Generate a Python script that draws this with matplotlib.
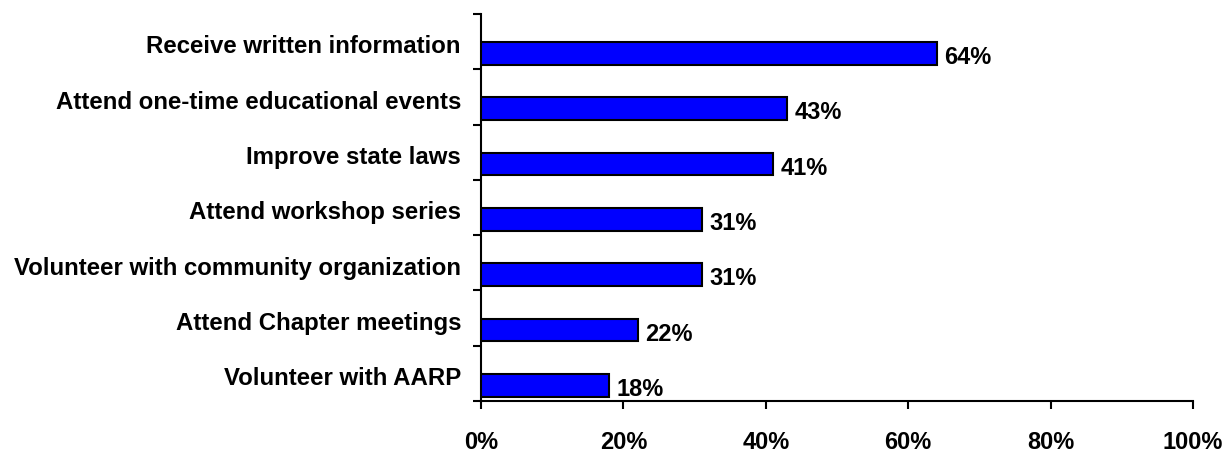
import matplotlib
matplotlib.use("Agg")
import matplotlib.pyplot as plt

categories = [
    "Receive written information",
    "Attend one-time educational events",
    "Improve state laws",
    "Attend workshop series",
    "Volunteer with community organization",
    "Attend Chapter meetings",
    "Volunteer with AARP",
]
values = [64, 43, 41, 31, 31, 22, 18]
xticks = [0, 20, 40, 60, 80, 100]
xtick_labels = ["0%", "20%", "40%", "60%", "80%", "100%"]

plt.rcParams['font.family'] = ['Liberation Sans', 'DejaVu Sans']
plt.rcParams['font.weight'] = 'bold'

fig = plt.figure(figsize=(12.25, 4.54), dpi=100)
ax = fig.add_axes([481/1225, 53/454, (1193-481)/1225, (401-14)/454])

n = len(categories)
pos = list(range(n))
bar_off = 0.215
ax.barh([p + bar_off for p in pos], values, height=0.41, color='#0000FF',
        edgecolor='black', linewidth=1.5, zorder=3)

for p, v in zip(pos, values):
    ax.annotate(f"{v}%", xy=(v, p + bar_off), xytext=(5.5, -3), textcoords='offset points',
                ha='left', va='center', fontsize=17, fontweight='bold')

ax.set_xlim(0, 100)
ax.set_ylim(n - 0.5, -0.5)
ax.set_xticks(xticks)
ax.set_xticklabels(xtick_labels, fontsize=17, fontweight='bold')
ax.set_yticks([i - 0.5 for i in range(n + 1)])
ax.set_yticklabels([])
ax.set_yticks([p + 0.05 for p in pos], minor=True)
ax.set_yticklabels(categories, minor=True, fontsize=17.3, fontweight='bold')
ax.tick_params(axis='y', which='major', direction='out', length=6, width=1.5)
ax.tick_params(axis='y', which='minor', length=0, pad=14.4)
ax.tick_params(axis='x', which='major', direction='out', length=6, width=1.5, pad=15.5)

for s in ['top', 'right']:
    ax.spines[s].set_visible(False)
for s in ['left', 'bottom']:
    ax.spines[s].set_linewidth(1.5)

fig.savefig("out.png", dpi=100)
